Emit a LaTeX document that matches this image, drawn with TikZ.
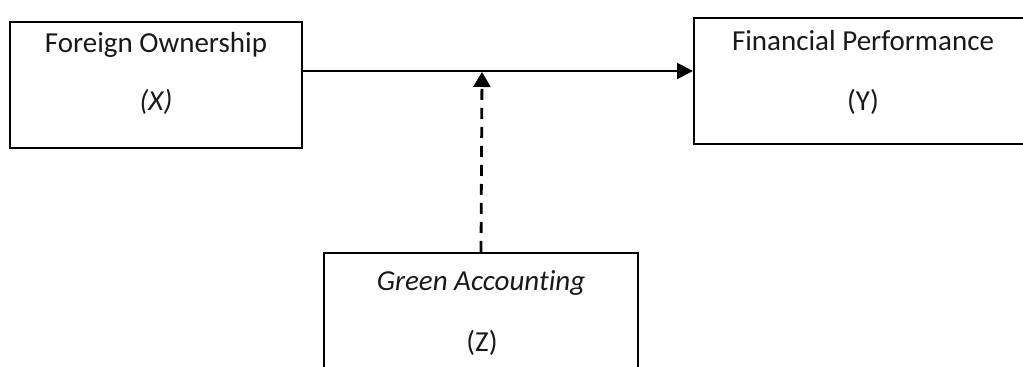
\documentclass[tikz,border=0pt]{standalone}
\usepackage{fontspec}
\setmainfont{Carlito}[Ligatures=NoCommon]
\usetikzlibrary{arrows.meta}
\begin{document}
\begin{tikzpicture}[x=0.5pt,y=-0.5pt,
  box/.style={draw=black,line width=1pt,rectangle,inner sep=0pt},
  lbl/.style={inner sep=0pt,font=\fontsize{14.5pt}{17pt}\selectfont,text=black!90},
  conn/.style={line width=1pt,-{Triangle[length=8pt,width=8pt]}},
  modline/.style={line width=1.4pt,dash pattern=on 5.5pt off 4pt,-{Triangle[length=7.5pt,width=8.5pt]}}]
\useasboundingbox (0,0) rectangle (1023,367);
% boxes
\node[box,minimum width=146pt,minimum height=63pt] (X) at (156,85) {};
\node[box,minimum width=169pt,minimum height=63pt] (Y) at (863,81) {};
\node[box,minimum width=157pt,minimum height=61pt] (Z) at (481,314) {};
% texts
\node[lbl] (xt) at (156,45) {Foreign Ownership};
\node[lbl] (xv) at (156,102) {\textit{(X)}};
\node[lbl] (yt) at (863,41) {Financial Performance};
\node[lbl] (yv) at (863,102) {(Y)};
\node[lbl] (zt) at (481,283) {\textit{Green Accounting}};
\node[lbl] (zv) at (482,343) {(Z)};
% connectors
\draw[conn] ([yshift=7pt]X.east) -- ([yshift=5pt]Y.west);
\coordinate (M) at (482,72);
\draw[modline] (Z.north) -- (M);
\end{tikzpicture}
\end{document}
